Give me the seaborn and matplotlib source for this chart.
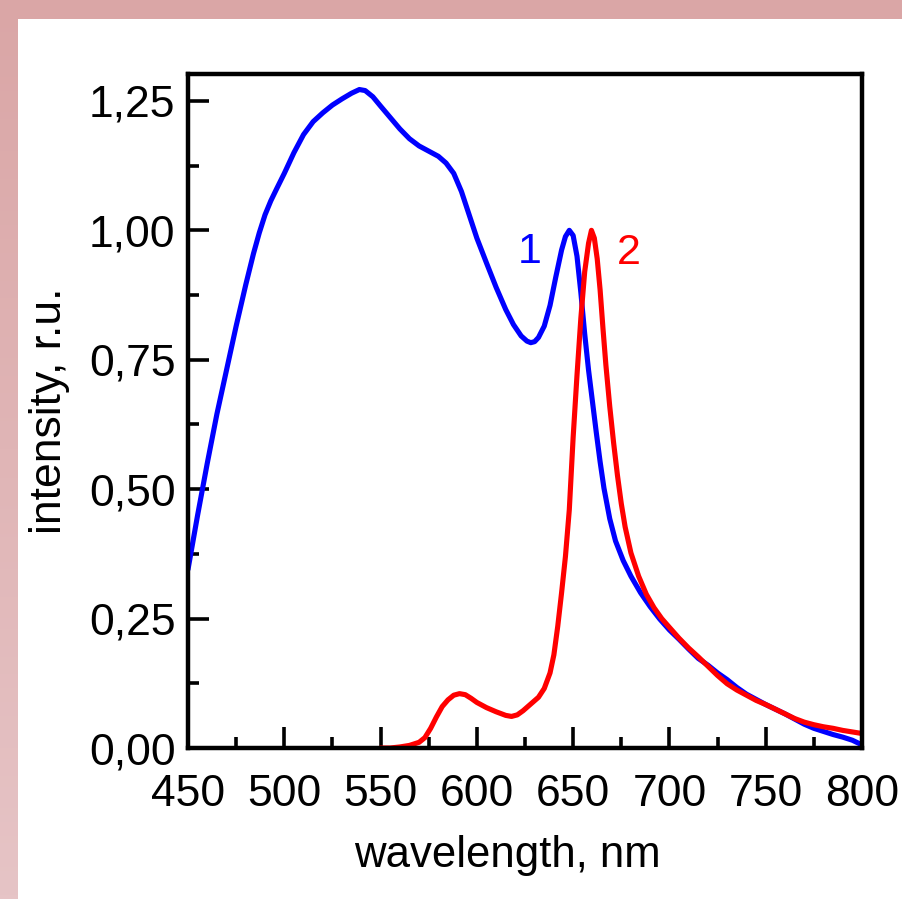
import numpy as np
import pandas as pd
import matplotlib
matplotlib.use("Agg")
import matplotlib.pyplot as plt
from matplotlib.patches import Rectangle
from matplotlib.ticker import FixedLocator, MultipleLocator, FuncFormatter
import seaborn as sns

# Spectrum 1 (blue): wavelength, nm / intensity, r.u.
wl_1 = [450, 455, 460, 465, 470, 475, 480, 484, 487, 490,
        493, 496, 500, 505, 510, 515, 520, 525, 530, 535,
        539, 542, 546, 550, 555, 560, 565, 570, 575, 580,
        584, 588, 592, 596, 600, 605, 610, 615, 619, 623,
        626, 628, 630, 632, 635, 638, 641, 644, 646, 648,
        650, 652, 654, 656, 658, 660, 662, 664, 666, 669,
        672, 676, 680, 685, 690, 695, 700, 705, 710, 715,
        720, 725, 730, 735, 740, 745, 750, 755, 760, 765,
        770, 775, 780, 785, 790, 795, 800]
int_1 = [0.345, 0.45, 0.55, 0.645, 0.73, 0.815, 0.895, 0.955, 0.995, 1.03,
         1.057, 1.08, 1.11, 1.15, 1.185, 1.21, 1.227, 1.242, 1.254, 1.265,
         1.272, 1.27, 1.258, 1.24, 1.218, 1.196, 1.177, 1.163, 1.153, 1.143,
         1.13, 1.11, 1.075, 1.03, 0.985, 0.937, 0.89, 0.847, 0.818, 0.796,
         0.786, 0.783, 0.785, 0.793, 0.815, 0.855, 0.91, 0.962, 0.988, 1.0,
         0.99, 0.95, 0.88, 0.8, 0.73, 0.67, 0.61, 0.553, 0.502, 0.443,
         0.4, 0.362, 0.332, 0.3, 0.273, 0.249, 0.228, 0.21, 0.191, 0.173,
         0.16, 0.145, 0.132, 0.117, 0.104, 0.094, 0.084, 0.075, 0.066, 0.056,
         0.046, 0.038, 0.032, 0.026, 0.021, 0.015, 0.006]

# Spectrum 2 (red)
wl_2 = [550, 555, 560, 565, 570, 573, 576, 579, 582, 585,
        588, 591, 594, 597, 600, 605, 610, 615, 618, 621,
        624, 628, 632, 635, 638, 640, 642, 644, 646, 648,
        650, 652, 654, 656, 658, 659.5, 661, 662.5, 664, 665.5,
        667, 669, 671, 673, 675, 677, 680, 684, 688, 692,
        696, 700, 705, 710, 715, 720, 725, 730, 735, 740,
        745, 750, 755, 760, 765, 770, 775, 780, 785, 790,
        795, 800]
int_2 = [0.0, 0.0, 0.002, 0.005, 0.011, 0.02, 0.038, 0.06, 0.08, 0.093,
         0.102, 0.105, 0.103, 0.096, 0.088, 0.078, 0.07, 0.063, 0.061, 0.064,
         0.072, 0.085, 0.098, 0.115, 0.145, 0.18, 0.235, 0.3, 0.37, 0.46,
         0.6, 0.72, 0.83, 0.92, 0.975, 1.0, 0.985, 0.945, 0.885, 0.81,
         0.74, 0.66, 0.59, 0.527, 0.472, 0.427, 0.377, 0.332, 0.297, 0.271,
         0.25, 0.233, 0.212, 0.193, 0.176, 0.158, 0.14, 0.124, 0.112, 0.102,
         0.092, 0.084, 0.075, 0.066, 0.057, 0.05, 0.045, 0.041, 0.038, 0.034,
         0.031, 0.028]

x_ticks = [450, 500, 550, 600, 650, 700, 750, 800]
y_ticks = [0.0, 0.25, 0.5, 0.75, 1.0, 1.25]

curve_labels = ["1", "2"]
curve_label_pos = [(627.5, 0.958), (679.0, 0.956)]
curve_colors = ["#0000ff", "#ff0000"]

sns.set_theme(style="white")
plt.rcParams["font.family"] = ["Liberation Sans", "DejaVu Sans"]
plt.rcParams["text.color"] = "black"
plt.rcParams["axes.labelcolor"] = "black"
plt.rcParams["xtick.color"] = "black"
plt.rcParams["ytick.color"] = "black"

W, H = 903, 899
fig = plt.figure(figsize=(W / 100, H / 100), dpi=100)

# pink frame with a soft vertical gradient and a white sheet on top
bg = fig.add_axes([0, 0, 1, 1], zorder=-10)
t = np.linspace(0, 1, 256)[:, None]
top_c = np.array([218, 166, 166]) / 255
bot_c = np.array([230, 196, 198]) / 255
grad = (top_c * (1 - t) + bot_c * t)[:, None, :].repeat(4, axis=1)
bg.imshow(grad, extent=[0, 1, 0, 1], aspect="auto", origin="upper")
bg.add_patch(Rectangle((18 / W, 0), 1, (H - 19) / H, color="white",
                       transform=bg.transAxes, lw=0))
bg.set_xlim(0, 1)
bg.set_ylim(0, 1)
bg.axis("off")

ax = fig.add_axes([188 / W, (H - 748) / H, 674 / W, 674 / H])
ax.set_facecolor("white")

df1 = pd.DataFrame({"wavelength": wl_1, "intensity": int_1})
df2 = pd.DataFrame({"wavelength": wl_2, "intensity": int_2})
sns.lineplot(data=df1, x="wavelength", y="intensity", color=curve_colors[0],
             lw=3.7, ax=ax, estimator=None, sort=False)
sns.lineplot(data=df2, x="wavelength", y="intensity", color=curve_colors[1],
             lw=3.7, ax=ax, estimator=None, sort=False)
for ln in ax.lines:
    ln.set_solid_joinstyle("round")
    ln.set_solid_capstyle("round")

for lab, (xp, yp), c in zip(curve_labels, curve_label_pos, curve_colors):
    ax.text(xp, yp, lab, color=c, fontsize=31, ha="center", va="center")

ax.set_xlim(450, 800)
ax.set_ylim(0, 1.302)
ax.xaxis.set_major_locator(FixedLocator(x_ticks))
ax.xaxis.set_minor_locator(MultipleLocator(25))
ax.yaxis.set_major_locator(FixedLocator(y_ticks))
ax.yaxis.set_minor_locator(MultipleLocator(0.125))
ax.yaxis.set_major_formatter(FuncFormatter(lambda v, p: f"{v:.2f}".replace(".", ",")))
ax.xaxis.set_major_formatter(FuncFormatter(lambda v, p: f"{v:.0f}"))

ax.tick_params(which="both", direction="in", top=False, right=False,
               bottom=True, left=True, color="black", width=2.6)
ax.tick_params(which="major", length=15, labelsize=32, labelcolor="black")
ax.tick_params(which="minor", length=8)
ax.tick_params(axis="x", pad=19)
ax.tick_params(axis="y", pad=9)

for s in ax.spines.values():
    s.set_visible(True)
    s.set_color("black")
    s.set_linewidth(3.2)

ax.set_xlabel("wavelength, nm", fontsize=31.5, color="black")
ax.set_ylabel("intensity, r.u.", fontsize=32, color="black")
ax.xaxis.set_label_coords((507 - 188) / 674, -(835 - 748) / 674)
ax.yaxis.set_label_coords((70 - 188) / 674, 0.5)
ax.grid(False)

fig.savefig("out.png", dpi=100)
